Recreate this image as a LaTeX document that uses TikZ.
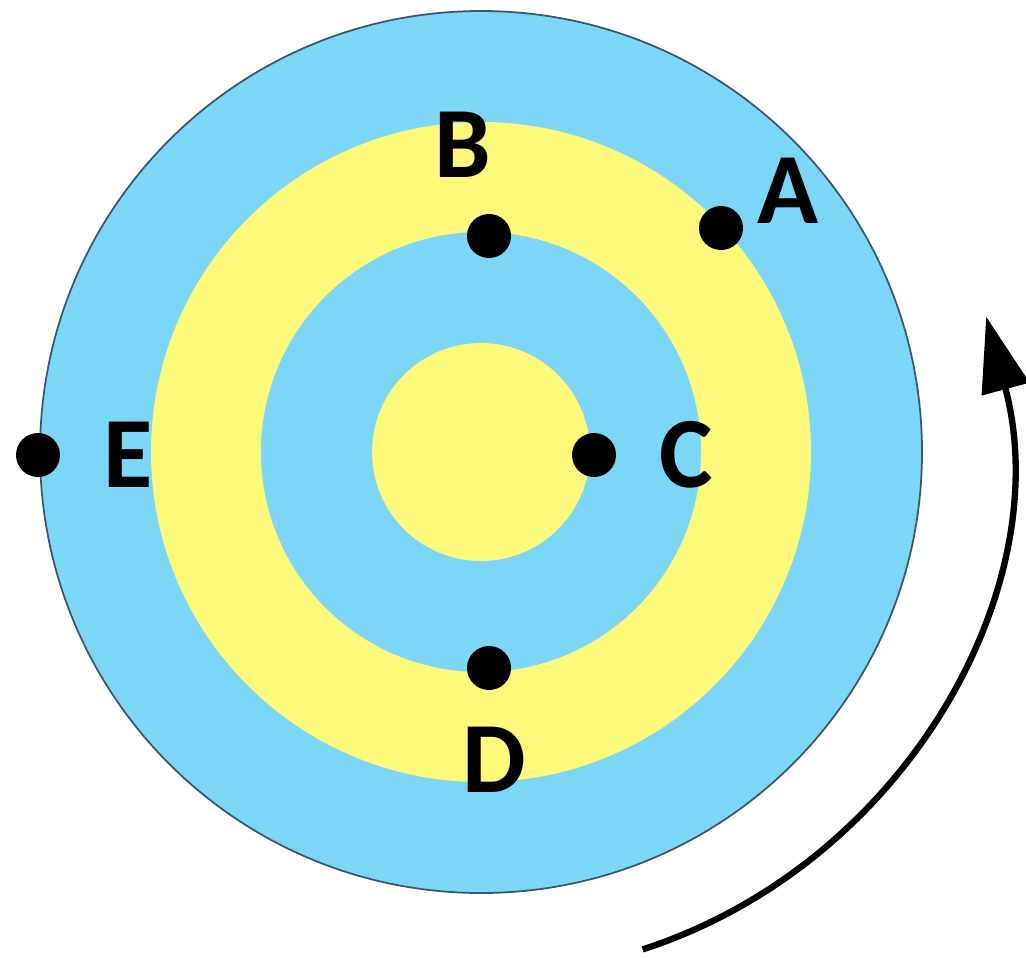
\documentclass[tikz,border=0pt]{standalone}
\usepackage{fontspec}
\setmainfont{Carlito}
\usetikzlibrary{calc}
\usetikzlibrary{arrows.meta}
\definecolor{ringblue}{RGB}{124,214,248}
\definecolor{ringyellow}{RGB}{253,249,122}
\definecolor{rimgray}{RGB}{58,88,108}
\tikzset{
	dot/.style={circle,fill=black,inner sep=0pt,minimum size=4.4mm},
	lbl/.style={font=\fontsize{28.7}{30}\selectfont\bfseries,inner sep=0pt}
}
\begin{document}
\begin{tikzpicture}
		\useasboundingbox (0,0) rectangle (10.26,9.57);
		\coordinate (O) at (4.81,5.05);
		\fill[ringblue,draw=rimgray,line width=0.5pt] (O) circle (4.41);
		\fill[ringyellow] (O) circle (3.30);
		\fill[ringblue] (O) circle (2.20);
		\fill[ringyellow] (O) circle (1.09);
		\node[dot] (dA) at (7.21,7.29) {};
		\node[dot] (dB) at (4.89,7.21) {};
		\node[dot] (dC) at (5.94,5.02) {};
		\node[dot] (dD) at (4.89,2.89) {};
		\node[dot] (dE) at (0.38,5.02) {};
		\node[lbl] (lA) at (7.88,7.66) {A};
		\node[lbl] (lB) at (4.63,8.12) {B};
		\node[lbl] (lC) at (6.86,5.02) {C};
		\node[lbl] (lD) at (4.94,1.97) {D};
		\node[lbl] (lE) at (1.28,5.02) {E};
		\coordinate (arrS) at ($(O)+(-72:5.23)$);
		\draw[line width=1.8pt,-{Triangle[length=7.5mm,width=4.8mm]}] (arrS) arc (-72:15:5.23);
	\end{tikzpicture}
\end{document}
